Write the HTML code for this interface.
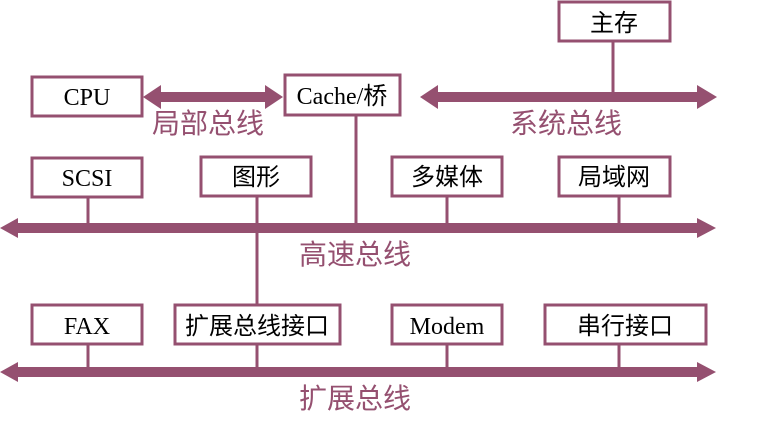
<!DOCTYPE html>
<html><head><meta charset="utf-8"><style>
body{margin:0;background:#fff;width:770px;height:424px;overflow:hidden}
svg text{font-family:"Liberation Serif","Noto Sans CJK SC",sans-serif;font-size:24px;fill:#000}
svg text.l{font-family:"Liberation Sans","Noto Sans CJK SC",sans-serif;fill:#955070;font-size:28px}
</style></head><body>
<svg width="770" height="424" viewBox="0 0 770 424">
<g stroke="#955070" stroke-width="3" fill="none">
<line x1="613" y1="41" x2="613" y2="97"/>
<line x1="356" y1="115" x2="356" y2="228"/>
<line x1="257" y1="196" x2="257" y2="305"/>
<line x1="88" y1="197" x2="88" y2="228"/>
<line x1="447" y1="196" x2="447" y2="228"/>
<line x1="619" y1="196" x2="619" y2="228"/>
<line x1="88" y1="344" x2="88" y2="372"/>
<line x1="257" y1="344" x2="257" y2="372"/>
<line x1="447" y1="344" x2="447" y2="372"/>
<line x1="619" y1="344" x2="619" y2="372"/>
</g>
<g fill="#955070">
<polygon points="143,97 161,85 161,92 265,92 265,85 283,97 265,109 265,102 161,102 161,109"/>
<polygon points="420,97 438,85 438,92 697,92 697,85 717,97 697,109 697,102 438,102 438,109"/>
<polygon points="0,228 18,218 18,223 697,223 697,218 716,228 697,238 697,233 18,233 18,238"/>
<polygon points="0,372 18,362 18,367 697,367 697,362 716,372 697,382 697,377 18,377 18,382"/>
</g>
<g stroke="#955070" stroke-width="3" fill="#fff">
<rect x="32" y="77" width="110" height="39"/>
<rect x="285" y="75" width="115" height="40"/>
<rect x="559" y="2" width="111" height="39"/>
<rect x="32" y="158" width="110" height="39"/>
<rect x="201" y="157" width="110" height="39"/>
<rect x="392" y="157" width="110" height="39"/>
<rect x="559" y="157" width="111" height="39"/>
<rect x="32" y="305" width="110" height="39"/>
<rect x="175" y="305" width="165" height="39"/>
<rect x="392" y="305" width="110" height="39"/>
<rect x="545" y="305" width="161" height="39"/>
</g>
<g text-anchor="middle">
<text x="87" y="105">CPU</text>
<text x="342" y="104">Cache/桥</text>
<text x="614" y="31">主存</text>
<text x="87" y="186">SCSI</text>
<text x="256" y="185">图形</text>
<text x="447" y="185">多媒体</text>
<text x="614" y="185">局域网</text>
<text x="87" y="334">FAX</text>
<text x="257" y="334">扩展总线接口</text>
<text x="447" y="334">Modem</text>
<text x="625" y="334">串行接口</text>
<text class="l" x="208" y="133">局部总线</text>
<text class="l" x="566" y="133">系统总线</text>
<text class="l" x="355" y="264">高速总线</text>
<text class="l" x="355" y="408">扩展总线</text>
</g>
</svg>
</body></html>
